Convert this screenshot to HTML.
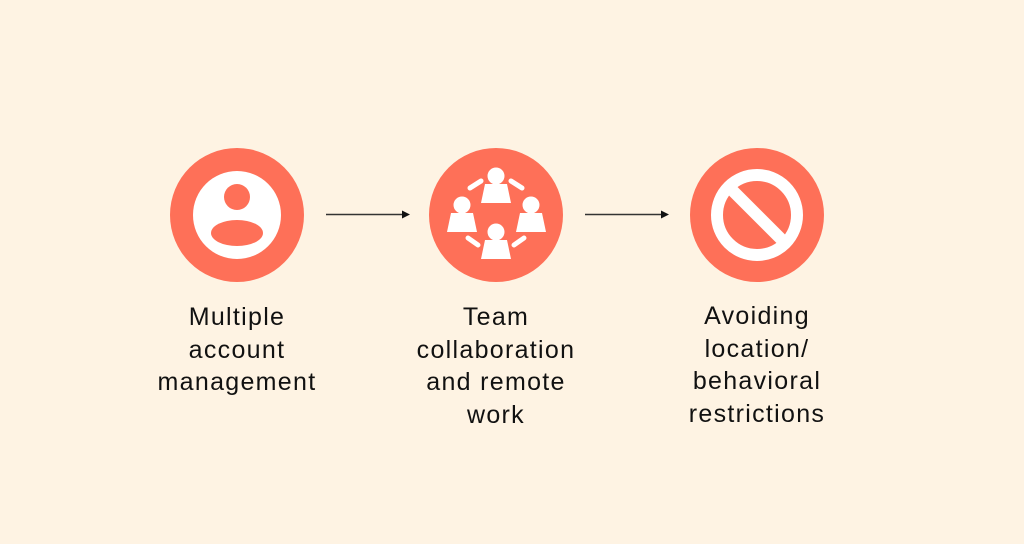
<!DOCTYPE html>
<html><head><meta charset="utf-8"><style>
html,body{margin:0;padding:0;width:1024px;height:544px;background:#fef3e3;overflow:hidden}
svg{position:absolute;left:0;top:0}
.t{position:absolute;width:240px;text-align:center;font-family:"Liberation Sans",sans-serif;font-size:25px;letter-spacing:1.3px;line-height:32.5px;color:#111}
</style></head><body>
<svg width="1024" height="544" viewBox="0 0 1024 544">
<g fill="#fe7058">
<circle cx="237" cy="215" r="67"/>
<circle cx="496" cy="215" r="67"/>
<circle cx="757" cy="215" r="67"/>
</g>
<circle cx="237" cy="215" r="44" fill="#fff"/>
<circle cx="237" cy="197" r="13" fill="#fe7058"/>
<ellipse cx="237" cy="233" rx="26" ry="13" fill="#fe7058"/>
<g fill="#fff">
<circle cx="496" cy="176" r="8.5"/><path d="M485 184h22l4 19h-30z"/>
<circle cx="462" cy="205" r="8.5"/><path d="M451 213h22l4 19h-30z"/>
<circle cx="531" cy="205" r="8.5"/><path d="M520 213h22l4 19h-30z"/>
<circle cx="496" cy="232" r="8.5"/><path d="M485 240h22l4 19h-30z"/>
</g>
<g stroke="#fff" stroke-width="5" stroke-linecap="round" fill="none">
<path d="M470 188 L481 181"/><path d="M511 181 L522 188"/>
<path d="M468 238 L478 245"/><path d="M514 245 L524 238"/>
</g>
<circle cx="757" cy="215" r="40" fill="none" stroke="#fff" stroke-width="12"/>
<path d="M731 189 L783 241" stroke="#fff" stroke-width="12"/>
<g stroke="#333" stroke-width="1.6"><path d="M326 214.5H403"/><path d="M585 214.5H662"/></g>
<g fill="#111"><path d="M402 210.5L410 214.5L402 218.5z"/><path d="M661 210.5L669 214.5L661 218.5z"/></g>
</svg>
<div class="t" style="left:117px;top:301px">Multiple<br>account<br>management</div>
<div class="t" style="left:376px;top:301px">Team<br>collaboration<br>and remote<br>work</div>
<div class="t" style="left:637px;top:300px">Avoiding<br>location/<br>behavioral<br>restrictions</div>
</body></html>
